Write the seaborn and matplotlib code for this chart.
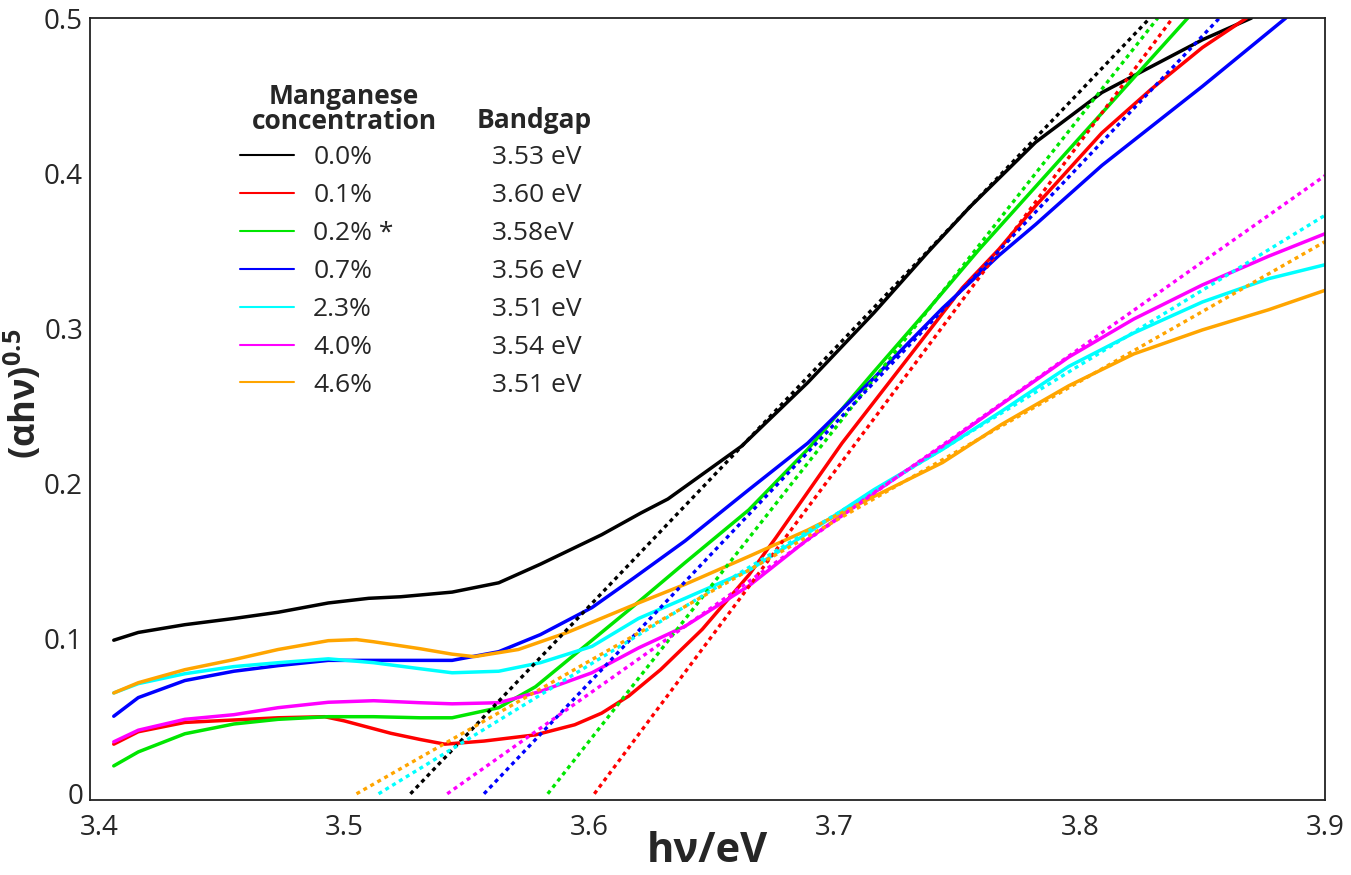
import matplotlib
matplotlib.use("Agg")
import matplotlib.pyplot as plt
from matplotlib.lines import Line2D
from matplotlib.ticker import MultipleLocator, FuncFormatter
import numpy as np
import pandas as pd
import seaborn as sns

CONCENTRATIONS = ["0.0%", "0.1%", "0.2% *", "0.7%", "2.3%", "4.0%", "4.6%"]
BANDGAP_LABELS = ["3.53 eV", "3.60 eV", "3.58eV", "3.56 eV", "3.51 eV", "3.54 eV", "3.51 eV"]
COLORS = ["black", "#ff0000", "#00e600", "#0000ff", "#00ffff", "#ff00ff", "#ffa500"]

# Tauc curves: photon energy (eV) and (alpha h nu)^0.5
hv_00 = [3.406, 3.416, 3.435, 3.455, 3.473, 3.4935, 3.51, 3.523, 3.544, 3.563, 3.580, 3.605,
         3.621, 3.632, 3.662, 3.689, 3.716, 3.738, 3.755, 3.782, 3.809, 3.850, 3.870]
ahv_00 = [0.099, 0.104, 0.109, 0.113, 0.117, 0.123, 0.126, 0.127, 0.130, 0.136, 0.148, 0.167,
          0.181, 0.190, 0.224, 0.265, 0.310, 0.349, 0.378, 0.420, 0.452, 0.486, 0.500]

hv_01 = [3.406, 3.416, 3.435, 3.473, 3.492, 3.5, 3.519, 3.531, 3.541, 3.557, 3.578, 3.594, 3.605,
         3.616, 3.629, 3.646, 3.665, 3.676, 3.703, 3.730, 3.752, 3.767, 3.782, 3.809, 3.829,
         3.850, 3.868]
ahv_01 = [0.032, 0.040, 0.046, 0.049, 0.0497, 0.047, 0.039, 0.035, 0.032, 0.034, 0.038, 0.0445,
          0.052, 0.063, 0.080, 0.106, 0.141, 0.165, 0.226, 0.281, 0.326, 0.351, 0.379, 0.426,
          0.454, 0.481, 0.500]

hv_02 = [3.406, 3.416, 3.435, 3.455, 3.473, 3.4935, 3.512, 3.531, 3.544, 3.563, 3.578, 3.598,
         3.618, 3.639, 3.665, 3.689, 3.716, 3.738, 3.759, 3.800, 3.844]
ahv_02 = [0.018, 0.027, 0.0387, 0.045, 0.048, 0.0497, 0.0497, 0.049, 0.049, 0.0555, 0.069, 0.095,
          0.121, 0.149, 0.183, 0.222, 0.272, 0.312, 0.351, 0.423, 0.500]

hv_07 = [3.406, 3.416, 3.435, 3.455, 3.473, 3.4935, 3.512, 3.531, 3.544, 3.563, 3.580, 3.601,
         3.618, 3.639, 3.665, 3.689, 3.716, 3.744, 3.767, 3.782, 3.809, 3.850, 3.884]
ahv_07 = [0.050, 0.062, 0.073, 0.079, 0.0826, 0.086, 0.086, 0.086, 0.086, 0.0916, 0.1026, 0.120,
          0.139, 0.163, 0.196, 0.226, 0.268, 0.313, 0.347, 0.367, 0.405, 0.456, 0.500]

hv_23 = [3.406, 3.416, 3.435, 3.455, 3.473, 3.4935, 3.512, 3.531, 3.544, 3.563, 3.580, 3.601,
         3.620, 3.639, 3.665, 3.689, 3.716, 3.744, 3.768, 3.7955, 3.822, 3.850, 3.877, 3.9]
ahv_23 = [0.065, 0.071, 0.0774, 0.082, 0.0845, 0.087, 0.0845, 0.0806, 0.078, 0.079, 0.0845, 0.095,
          0.113, 0.126, 0.144, 0.168, 0.196, 0.222, 0.2465, 0.2755, 0.297, 0.317, 0.332, 0.341]

hv_40 = [3.406, 3.416, 3.435, 3.455, 3.473, 3.4935, 3.512, 3.531, 3.544, 3.563, 3.580, 3.601,
         3.620, 3.639, 3.665, 3.689, 3.716, 3.744, 3.768, 3.7955, 3.822, 3.850, 3.877, 3.9]
ahv_40 = [0.0335, 0.041, 0.048, 0.051, 0.0555, 0.059, 0.060, 0.0587, 0.058, 0.0587, 0.066, 0.078,
          0.094, 0.108, 0.134, 0.164, 0.194, 0.224, 0.251, 0.2815, 0.306, 0.328, 0.3465, 0.361]

hv_46 = [3.406, 3.416, 3.435, 3.455, 3.473, 3.4935, 3.505, 3.512, 3.531, 3.544, 3.553, 3.571,
         3.591, 3.620, 3.639, 3.665, 3.689, 3.716, 3.744, 3.768, 3.7955, 3.822, 3.850, 3.877, 3.9]
ahv_46 = [0.065, 0.0716, 0.080, 0.0865, 0.093, 0.0987, 0.0994, 0.098, 0.0935, 0.090, 0.0884, 0.093,
          0.104, 0.123, 0.135, 0.153, 0.170, 0.1916, 0.2135, 0.238, 0.263, 0.2835, 0.299, 0.312,
          0.3245]

# linear fits of the absorption edge: x-intercept (eV) and slope
fit_onset = [3.527, 3.602, 3.583, 3.557, 3.514, 3.542, 3.505]
fit_slope = [1.658, 2.12, 2.01, 1.667, 0.966, 1.113, 0.901]

XLIM = (3.3963, 3.9)
YLIM = (-0.004, 0.5)

curves = [(hv_00, ahv_00), (hv_01, ahv_01), (hv_02, ahv_02), (hv_07, ahv_07),
          (hv_23, ahv_23), (hv_40, ahv_40), (hv_46, ahv_46)]

curve_df = pd.concat(
    [pd.DataFrame({"hv": xs, "ahv": ys, "conc": c}) for c, (xs, ys) in zip(CONCENTRATIONS, curves)],
    ignore_index=True,
)

fit_rows = []
for c, x0, k in zip(CONCENTRATIONS, fit_onset, fit_slope):
    x_end = min(XLIM[1], x0 + YLIM[1] / k)
    for x in (x0, x_end):
        fit_rows.append({"hv": x, "ahv": k * (x - x0), "conc": c})
fit_df = pd.DataFrame(fit_rows)

palette = dict(zip(CONCENTRATIONS, COLORS))

sns.set_theme(style="white")
plt.rcParams["font.family"] = ["Open Sans", "DejaVu Sans"]
plt.rcParams["mathtext.fontset"] = "custom"
plt.rcParams["mathtext.rm"] = "Open Sans"
plt.rcParams["mathtext.bf"] = "Open Sans:bold"

fig = plt.figure(figsize=(13.51, 8.75), dpi=100)
ax = fig.add_axes([0.0666, 0.0857, 0.9142, 0.8937])

sns.lineplot(data=curve_df, x="hv", y="ahv", hue="conc", hue_order=CONCENTRATIONS,
             palette=palette, sort=False, estimator=None, lw=2.5, legend=False, ax=ax)
sns.lineplot(data=fit_df, x="hv", y="ahv", hue="conc", hue_order=CONCENTRATIONS,
             palette=palette, sort=False, estimator=None, lw=2.4,
             linestyle=(0, (1.2, 1.2)), legend=False, ax=ax)

ax.set_xlim(*XLIM)
ax.set_ylim(*YLIM)
ax.xaxis.set_major_locator(MultipleLocator(0.1))
ax.xaxis.set_minor_locator(MultipleLocator(0.02))
ax.yaxis.set_major_locator(MultipleLocator(0.1))
ax.yaxis.set_minor_locator(MultipleLocator(0.02))
ax.xaxis.set_major_formatter(FuncFormatter(lambda v, p: f"{v:.1f}"))
ax.yaxis.set_major_formatter(FuncFormatter(lambda v, p: f"{round(v, 2):g}"))
ax.tick_params(axis="both", which="major", direction="in", length=9.5, width=1,
               labelsize=20, color="#222222", top=False, right=False)
ax.tick_params(axis="both", which="minor", direction="in", length=5, width=1,
               color="#222222", top=False, right=False)
ax.tick_params(axis="x", which="major", pad=10)
ax.tick_params(axis="y", which="major", pad=5)
for sp in ax.spines.values():
    sp.set_linewidth(1.3)
    sp.set_color("#222222")

ax.set_xlabel("hν/eV", fontsize=30, fontweight="bold")
ax.xaxis.set_label_coords(0.5, -0.039)
ax.set_ylabel(r"(αhν)$^{\mathbf{0.5}}$", fontsize=26, fontweight="bold")
ax.yaxis.set_label_coords(-0.0365, 0.519)

# legend: concentration column with line samples, bandgap column as plain text
handles = [Line2D([], [], color=col, lw=1.5) for col in COLORS]
leg1 = ax.legend(handles, CONCENTRATIONS, loc="upper left", bbox_to_anchor=(0.1215, 0.8375),
                 frameon=False, fontsize=19, handlelength=2.05, handletextpad=0.72,
                 labelspacing=0.49, borderpad=0, borderaxespad=0)
ax.add_artist(leg1)
blank = [Line2D([], [], alpha=0) for _ in BANDGAP_LABELS]
ax.legend(blank, BANDGAP_LABELS, loc="upper left", bbox_to_anchor=(0.3255, 0.8375),
          frameon=False, fontsize=19, handlelength=0, handletextpad=0,
          labelspacing=0.49, borderpad=0, borderaxespad=0)

ax.text(0.2057, 0.890, "Manganese", transform=ax.transAxes, ha="center", va="baseline",
        fontsize=19, fontweight="bold")
ax.text(0.2057, 0.858, "concentration", transform=ax.transAxes, ha="center", va="baseline",
        fontsize=19, fontweight="bold")
ax.text(0.3595, 0.859, "Bandgap", transform=ax.transAxes, ha="center", va="baseline",
        fontsize=19, fontweight="bold")

fig.savefig("out.png", dpi=100, facecolor="white")
